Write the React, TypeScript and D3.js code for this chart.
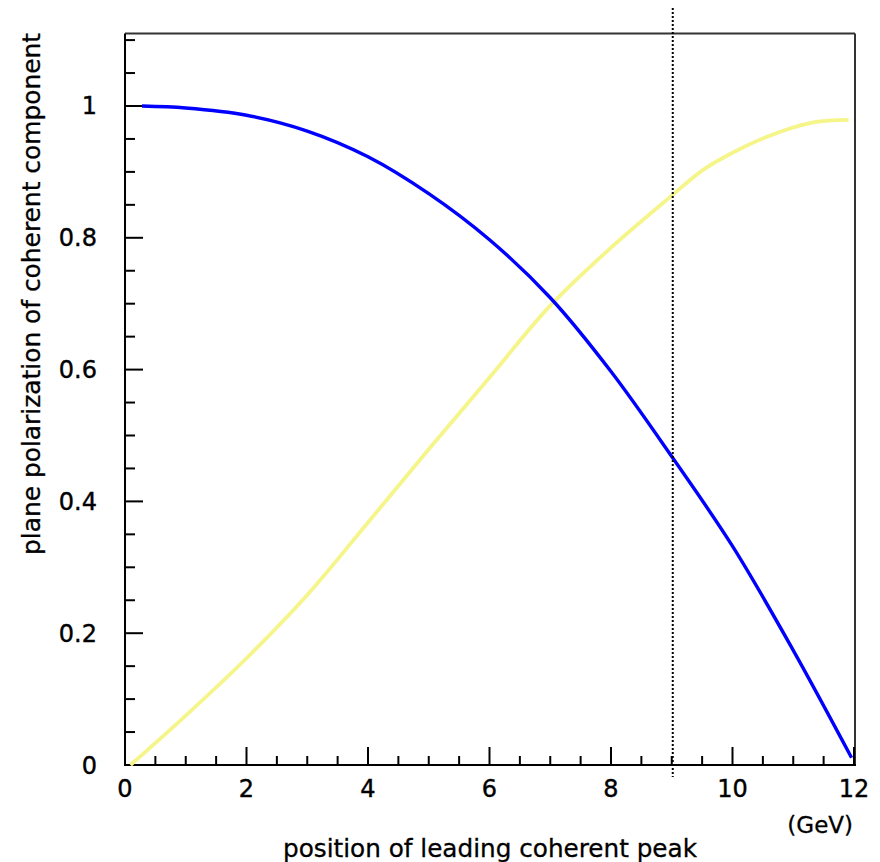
import React from "react";
import * as d3 from "d3";

const blueX = [0.28, 1, 2, 3, 4, 5, 6, 7, 8, 9, 10, 11, 11.96];
const blueY = [1.0, 0.997, 0.986, 0.962, 0.923, 0.867, 0.797, 0.709, 0.597, 0.468, 0.332, 0.174, 0.011];

const yellowX = [0.09, 1, 2, 3, 4, 5, 6, 7, 8, 9, 9.5, 10, 10.56, 11.33, 11.91];
const yellowY = [0, 0.075, 0.162, 0.258, 0.368, 0.479, 0.588, 0.697, 0.785, 0.864, 0.902, 0.929, 0.953, 0.975, 0.979];

const xMajorTicks = [0, 2, 4, 6, 8, 10, 12];
const xTickLabels = ["0", "2", "4", "6", "8", "10", "12"];
const yMajorTicks = [0, 0.2, 0.4, 0.6, 0.8, 1];
const yTickLabels = ["0", "0.2", "0.4", "0.6", "0.8", "1"];
const xMinorStep = 0.5;
const yMinorStep = 0.05;
const markerX = 9;

const xTitle = "position of leading coherent peak";
const yTitle = "plane polarization of coherent component";
const unitLabel = "(GeV)";

export default function App() {
  const W = 880, H = 862;
  const x = d3.scaleLinear().domain([0, 12]).range([125, 854]);
  const y = d3.scaleLinear().domain([0, 1.11]).range([765, 33.5]);
  const font = "'DejaVu Sans', sans-serif";

  const line = d3
    .line<[number, number]>()
    .x((d) => x(d[0]))
    .y((d) => y(d[1]))
    .curve(d3.curveCatmullRom.alpha(0.5));

  const blue = blueX.map((v, i) => [v, blueY[i]] as [number, number]);
  const yellow = yellowX.map((v, i) => [v, yellowY[i]] as [number, number]);

  const xMinor = d3.range(0, 12 + 1e-9, xMinorStep).filter((v) => !xMajorTicks.some((m) => Math.abs(m - v) < 1e-6));
  const yMinor = d3.range(0, 1.11, yMinorStep).filter((v) => !yMajorTicks.some((m) => Math.abs(m - v) < 1e-6));

  const x0 = x(0), x1 = x(12), y0 = y(0), y1 = y(1.11);

  return (
    <svg width={W} height={H} style={{ position: "absolute", left: 0, top: 0, background: "#fff" }}>
      <rect x={0} y={0} width={W} height={H} fill="#fff" />
      <line x1={x0} y1={y1} x2={x1 + 1} y2={y1} stroke="#333" strokeWidth={2} />
      <line x1={x1 + 1} y1={y1} x2={x1 + 1} y2={y0} stroke="#333" strokeWidth={2} />
      <line x1={x0} y1={y1} x2={x0} y2={y0 + 1} stroke="#000" strokeWidth={2} />
      <line x1={x0 - 1} y1={y0} x2={x1 + 2} y2={y0} stroke="#000" strokeWidth={2} />
      {xMajorTicks.map((v) => (
        <line key={"xM" + v} x1={x(v)} x2={x(v)} y1={y0} y2={y0 - 18} stroke="#000" strokeWidth={2} />
      ))}
      {xMinor.map((v) => (
        <line key={"xm" + v} x1={x(v)} x2={x(v)} y1={y0} y2={y0 - 9} stroke="#000" strokeWidth={2} />
      ))}
      {yMajorTicks.map((v) => (
        <line key={"yM" + v} x1={x0} x2={x0 + 18} y1={y(v)} y2={y(v)} stroke="#000" strokeWidth={2} />
      ))}
      {yMinor.map((v) => (
        <line key={"ym" + v} x1={x0} x2={x0 + 10} y1={y(v)} y2={y(v)} stroke="#000" strokeWidth={2} />
      ))}
      {xMajorTicks.map((v, i) => (
        <text key={"xl" + v} x={x(v)} y={797} textAnchor="middle" fontFamily={font} fontSize={24} fill="#000" stroke="#000" strokeWidth={0.4}>
          {xTickLabels[i]}
        </text>
      ))}
      {yMajorTicks.map((v, i) => (
        <text key={"yl" + v} x={97} y={y(v) + 8.5} textAnchor="end" fontFamily={font} fontSize={24} fill="#000" stroke="#000" strokeWidth={0.4}>
          {yTickLabels[i]}
        </text>
      ))}
      <path d={line(yellow) || ""} fill="none" stroke="#f5f58a" strokeWidth={3.8} />
      <path d={line(blue) || ""} fill="none" stroke="#0000ff" strokeWidth={3.4} />
      <line x1={x(markerX) + 1} x2={x(markerX) + 1} y1={8} y2={777} stroke="#000" strokeWidth={2} strokeDasharray="2,2" />
      <text x={853} y={833} textAnchor="end" fontFamily={font} fontSize={23} fill="#000" stroke="#000" strokeWidth={0.3}>
        {unitLabel}
      </text>
      <text x={490} y={857} textAnchor="middle" fontFamily={font} fontSize={24} fill="#000" stroke="#000" strokeWidth={0.3} textLength={414} lengthAdjust="spacingAndGlyphs">
        {xTitle}
      </text>
      <text
        transform={`translate(40,294) rotate(-90)`}
        textAnchor="middle"
        fontFamily={font}
        fontSize={24}
        fill="#000"
        stroke="#000"
        strokeWidth={0.3}
        textLength={522}
        lengthAdjust="spacingAndGlyphs"
      >
        {yTitle}
      </text>
    </svg>
  );
}
